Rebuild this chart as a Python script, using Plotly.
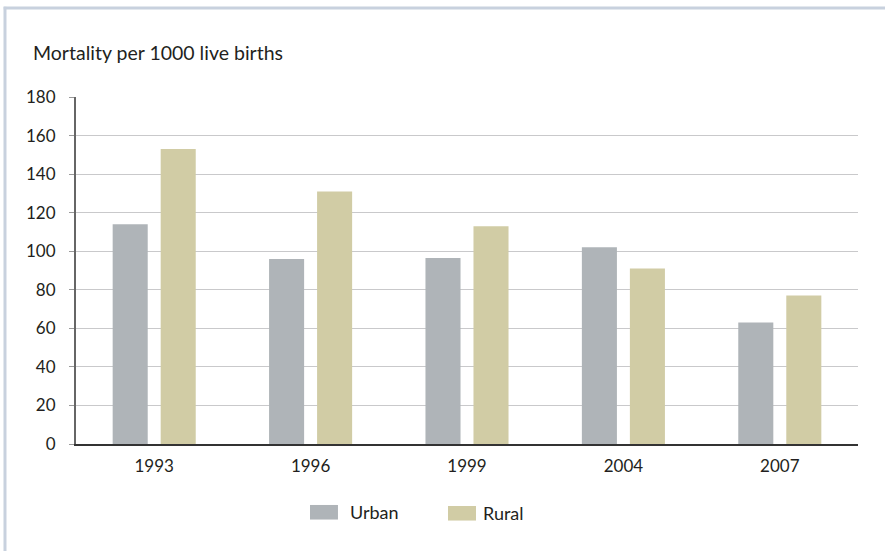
import plotly.graph_objects as go

years = ["1993", "1996", "1999", "2004", "2007"]
urban = [114, 96, 96.5, 102, 63]
rural = [153, 131, 113, 91, 77]
series_names = ["Urban", "Rural"]
series_colors = ["#afb4b8", "#d1cca5"]
y_ticks = [0, 20, 40, 60, 80, 100, 120, 140, 160, 180]
y_title = "Mortality per 1000 live births"

FONT = "Lato, 'Open Sans', sans-serif"
TXT = "#231f20"

fig = go.Figure()
for name, vals, col in zip(series_names, [urban, rural], series_colors):
    fig.add_trace(go.Bar(x=years, y=vals, name=name, marker_color=col,
                         marker_line_width=0, hoverinfo="x+y", showlegend=False))

# legend placement (paper coords) for the custom legend
legend_swatch_x = [0.2992, 0.4757]
legend_text_x = [0.3478, 0.5179]
legend_y = [-0.1967, -0.1996]
sw_w, sw_h = 0.0358, 0.042

shapes = [
    dict(type="line", xref="paper", yref="paper", x0=-0.0925, x1=1.04,
         y0=1.2565, y1=1.2565, line=dict(color="#c8d1de", width=3)),
    dict(type="line", xref="paper", yref="paper", x0=-0.0908, x1=-0.0908,
         y0=1.26, y1=-0.33, line=dict(color="#c8d1de", width=3)),
]
annotations = [dict(text=y_title, xref="paper", yref="paper", x=-0.0575, y=1.127,
                    xanchor="left", yanchor="middle", showarrow=False,
                    font=dict(size=19.5, color=TXT))]
for name, col, sx, tx, ly in zip(series_names, series_colors, legend_swatch_x,
                                 legend_text_x, legend_y):
    shapes.append(dict(type="rect", xref="paper", yref="paper", x0=sx, x1=sx + sw_w,
                       y0=ly - sw_h / 2, y1=ly + sw_h / 2, fillcolor=col,
                       line=dict(width=0)))
    annotations.append(dict(text=name, xref="paper", yref="paper", x=tx, y=ly,
                            xanchor="left", yanchor="middle", showarrow=False,
                            font=dict(size=18, color=TXT)))

fig.update_layout(
    width=885, height=551,
    margin=dict(l=76, r=27, t=97, b=107),
    paper_bgcolor="white", plot_bgcolor="white",
    barmode="group", bargap=0.386, bargroupgap=0.27,
    font=dict(family=FONT, size=17, color=TXT),
    showlegend=False,
    xaxis=dict(type="category", showline=True, linecolor="#333333", linewidth=1.5,
               ticks="", showgrid=False, tickfont=dict(size=17, color=TXT),
               ticklabelstandoff=6),
    yaxis=dict(range=[0, 180], tickvals=y_ticks, showline=True, linecolor="#666666",
               linewidth=2, ticks="outside", ticklen=5, tickcolor="#999999",
               showgrid=True, gridcolor="#c9c9cb", gridwidth=1.2, zeroline=False,
               tickfont=dict(size=17, color=TXT), ticklabelstandoff=10),
    annotations=annotations,
    shapes=shapes,
)

fig.write_html("out.html", config={"displayModeBar": False},
               post_script="document.body.style.margin='0px';")
